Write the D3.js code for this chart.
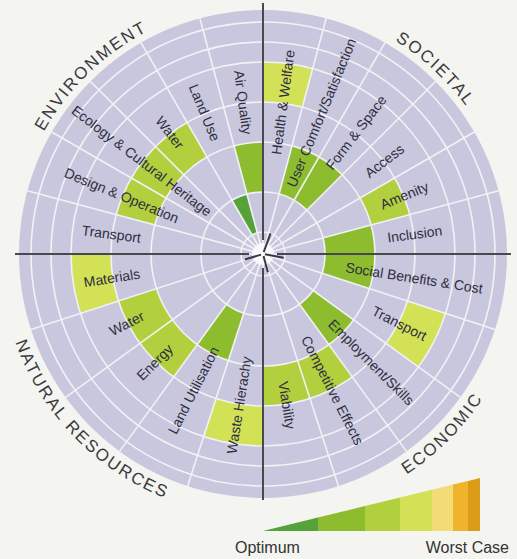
<!DOCTYPE html>
<html>
<head>
<meta charset="utf-8">
<script src="https://cdn.jsdelivr.net/npm/d3@7/dist/d3.min.js"></script>
<style>
  body { margin: 0; background: #f4f4f0; }
  svg { display: block; font-family: "Liberation Sans", Arial, sans-serif; }
</style>
</head>
<body>
<script>
// Quadrant titles
var quadrants = ["ENVIRONMENT", "SOCIETAL", "ECONOMIC", "NATURAL RESOURCES"];

// Indicators, listed from the vertical / horizontal axis outwards in reading order
var environment = ["Air Quality", "Land Use", "Water", "Ecology & Cultural Heritage", "Design & Operation", "Transport"];
var societal = ["Health & Welfare", "User Comfort/Satisfaction", "Form & Space", "Access", "Amenity", "Inclusion"];
var economic = ["Social Benefits & Cost", "Transport", "Employment/Skills", "Competitive Effects", "Viability"];
var natural = ["Materials", "Water", "Energy", "Land Utilisation", "Waste Hierachy"];

// Rating band of each indicator (1 = optimum ... 7 = worst case), null = not rated
var environmentValues = [2, 1, 3, 3, 3, null];
var societalValues = [4, 2, 2, null, 3, 2];
var economicValues = [2, 4, 2, 3, 3];
var naturalValues = [4, 3, 3, 2, 4];

// Band colours, optimum -> worst case
var bandColors = ["#55a23a", "#8dbd2e", "#b2cf3e", "#d3e157", "#f2dc78", "#f0b42c", "#dd9c18"];
var legendLabels = ["Optimum", "Worst Case"];

var width = 517, height = 559, cx = 263, cy = 254;
var rad = Math.PI / 180;

var svg = d3.select("body").append("svg")
  .attr("width", width)
  .attr("height", height);

var g = svg.append("g").attr("transform", "translate(" + cx + "," + cy + ")");

// radial scale: band edges get narrower towards the rim
var r = d3.scaleLinear()
  .domain(d3.range(8))
  .range([22, 62, 112, 152, 192, 212, 232, 244]);

var color = d3.scaleOrdinal().domain(d3.range(1, 8)).range(bandColors);

var groups = [
  { title: quadrants[0], items: environment, values: environmentValues, range: [0, -90], titleAt: -44, top: true },
  { title: quadrants[1], items: societal, values: societalValues, range: [0, 90], titleAt: 43, top: true },
  { title: quadrants[2], items: economic, values: economicValues, range: [90, 180], titleAt: 135, top: false },
  { title: quadrants[3], items: natural, values: naturalValues, range: [270, 180], titleAt: 226, top: false }
];

var sectors = [];
var spokes = [];
groups.forEach(function (q) {
  var a = d3.scaleBand().domain(q.items).range(q.range.map(function (d) { return d * rad; }));
  q.items.forEach(function (name, i) {
    var a0 = a(name);
    sectors.push({ name: name, value: q.values[i], a0: a0, a1: a0 + a.bandwidth() });
    spokes.push(a0);
  });
});

// disc
g.append("circle").attr("r", r(7)).attr("fill", "#c9c7dd");

// rated blocks
var arc = d3.arc()
  .innerRadius(function (d) { return r(d.value - 1); })
  .outerRadius(function (d) { return r(d.value); })
  .startAngle(function (d) { return d.a0; })
  .endAngle(function (d) { return d.a1; });

g.selectAll(".block")
  .data(sectors.filter(function (d) { return d.value != null; }))
  .enter().append("path")
  .attr("class", "block")
  .attr("d", arc)
  .attr("fill", function (d) { return color(d.value); });

// rings
g.selectAll(".ring")
  .data(d3.range(7))
  .enter().append("circle")
  .attr("class", "ring")
  .attr("r", function (d) { return r(d); })
  .attr("fill", "none")
  .attr("stroke", "#f1f1f6")
  .attr("stroke-width", 1.6);

// spokes
g.selectAll(".spoke")
  .data(spokes)
  .enter().append("line")
  .attr("class", "spoke")
  .attr("x1", 0).attr("y1", 0)
  .attr("x2", function (d) { return r(7) * Math.sin(d); })
  .attr("y2", function (d) { return -r(7) * Math.cos(d); })
  .attr("stroke", "#f1f1f6")
  .attr("stroke-width", 1.6);

// centre glow
g.append("circle").attr("r", 11).attr("fill", "#ffffff").attr("opacity", 0.75);

// axes, with a gap at the centre
var axes = [[-248, 0, -14, 0], [14, 0, 248, 0], [0, -251, 0, -14], [0, 14, 0, 246]];
g.selectAll(".axis")
  .data(axes)
  .enter().append("line")
  .attr("class", "axis")
  .attr("x1", function (d) { return d[0]; }).attr("y1", function (d) { return d[1]; })
  .attr("x2", function (d) { return d[2]; }).attr("y2", function (d) { return d[3]; })
  .attr("stroke", "#48484e")
  .attr("stroke-width", 2);

// little needles in the middle
var needles = [[20, 22], [253, 19], [165, 19], [100, 21]];
g.selectAll(".needle")
  .data(needles)
  .enter().append("line")
  .attr("x1", function (d) { return 2 * Math.sin(d[0] * rad); })
  .attr("y1", function (d) { return -2 * Math.cos(d[0] * rad); })
  .attr("x2", function (d) { return d[1] * Math.sin(d[0] * rad); })
  .attr("y2", function (d) { return -d[1] * Math.cos(d[0] * rad); })
  .attr("stroke", "#3a3a40")
  .attr("stroke-width", 2);

// indicator labels
var labelR = 153;
g.selectAll(".label")
  .data(sectors)
  .enter().append("text")
  .attr("class", "label")
  .attr("transform", function (d) {
    var m = (d.a0 + d.a1) / 2;
    var deg = ((m / rad) % 360 + 360) % 360;
    var rot = deg < 180 ? deg - 90 : deg + 90;
    return "translate(" + labelR * Math.sin(m) + "," + (-labelR * Math.cos(m)) + ") rotate(" + rot + ")";
  })
  .attr("text-anchor", "middle")
  .attr("dy", "0.35em")
  .style("font-size", "14px")
  .attr("fill", "#2e2e40")
  .text(function (d) { return d.name; });

// quadrant titles on curved paths
function arcPath(radius, from, to, sweep) {
  var x0 = radius * Math.sin(from * rad), y0 = -radius * Math.cos(from * rad);
  var x1 = radius * Math.sin(to * rad), y1 = -radius * Math.cos(to * rad);
  return "M" + x0 + "," + y0 + " A" + radius + "," + radius + " 0 0 " + sweep + " " + x1 + "," + y1;
}

var defs = svg.append("defs");
groups.forEach(function (q, i) {
  var p = q.top ? arcPath(251, q.titleAt - 70, q.titleAt + 70, 1)
                : arcPath(263, q.titleAt + 70, q.titleAt - 70, 0);
  defs.append("path").attr("id", "qpath" + i).attr("d", p);
  g.append("text")
    .style("font-size", "17px")
    .style("letter-spacing", "2px")
    .attr("fill", "#3a3a3e")
    .append("textPath")
    .attr("href", "#qpath" + i)
    .attr("startOffset", "50%")
    .attr("text-anchor", "middle")
    .text(q.title);
});

// legend wedge
var lx = d3.scaleLinear().domain(d3.range(8)).range([263, 318, 365, 400, 432, 453, 468, 480]);
var lh = d3.scaleLinear().domain([263, 480]).range([0, 53]);
var base = 531;

svg.selectAll(".legend")
  .data(d3.range(1, 8))
  .enter().append("path")
  .attr("class", "legend")
  .attr("d", function (d) {
    var x0 = lx(d - 1), x1 = lx(d);
    return "M" + x0 + "," + base + "L" + x1 + "," + base +
      "L" + x1 + "," + (base - lh(x1)) + "L" + x0 + "," + (base - lh(x0)) + "Z";
  })
  .attr("fill", function (d) { return color(d); });

svg.append("text")
  .attr("x", 235).attr("y", 553)
  .style("font-size", "16px")
  .attr("fill", "#333")
  .text(legendLabels[0]);

svg.append("text")
  .attr("x", 509).attr("y", 553)
  .attr("text-anchor", "end")
  .style("font-size", "16px")
  .attr("fill", "#333")
  .text(legendLabels[1]);
</script>
</body>
</html>
